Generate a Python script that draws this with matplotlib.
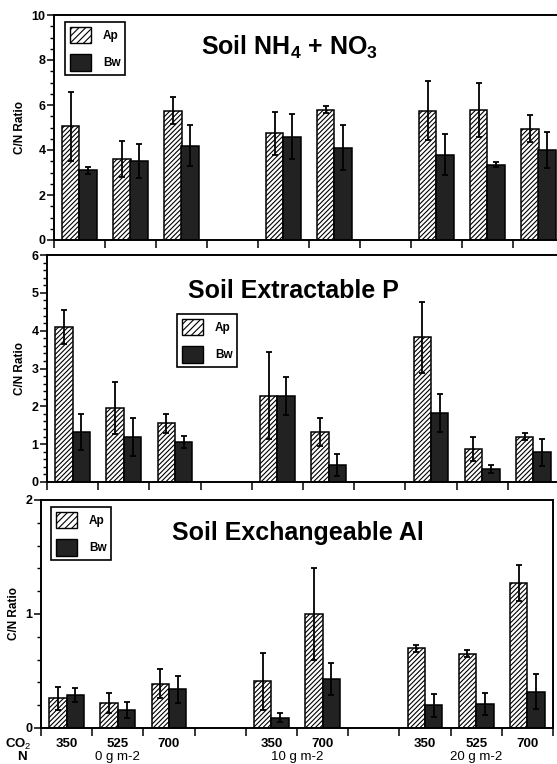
import numpy as np
import matplotlib.pyplot as plt
from matplotlib.patches import Patch
from matplotlib.ticker import MultipleLocator

plt.rcParams['font.family'] = ['Liberation Sans', 'DejaVu Sans']
plt.rcParams['mathtext.fontset'] = 'custom'
plt.rcParams['mathtext.rm'] = 'Liberation Sans'
plt.rcParams['mathtext.bf'] = 'Liberation Sans:bold'
plt.rcParams['hatch.linewidth'] = 0.8

# =========================
# Data
# =========================
slots = [0, 1, 2, 4, 5, 7, 8, 9]
co2_labels = ["350", "525", "700", "350", "700", "350", "525", "700"]
n_labels = ["0 g m-2", "10 g m-2", "20 g m-2"]
n_label_pos = [1.5, 5.0, 8.5]

nh4_ap = [5.05, 3.6, 5.75, 4.75, 5.8, 5.75, 5.8, 4.95]
nh4_ap_err = [1.55, 0.8, 0.6, 0.95, 0.15, 1.3, 1.2, 0.6]
nh4_bw = [3.1, 3.5, 4.2, 4.6, 4.1, 3.8, 3.35, 4.0]
nh4_bw_err = [0.15, 0.75, 0.9, 1.0, 1.0, 0.9, 0.1, 0.8]

p_ap = [4.1, 1.95, 1.55, 2.28, 1.32, 3.82, 0.87, 1.2]
p_ap_err = [0.45, 0.68, 0.25, 1.15, 0.38, 0.95, 0.32, 0.1]
p_bw = [1.32, 1.2, 1.05, 2.28, 0.45, 1.82, 0.34, 0.78]
p_bw_err = [0.48, 0.5, 0.16, 0.5, 0.28, 0.5, 0.1, 0.35]

al_ap = [0.26, 0.22, 0.39, 0.41, 1.0, 0.7, 0.65, 1.27]
al_ap_err = [0.1, 0.09, 0.13, 0.25, 0.4, 0.03, 0.03, 0.16]
al_bw = [0.29, 0.16, 0.34, 0.09, 0.43, 0.2, 0.21, 0.32]
al_bw_err = [0.06, 0.07, 0.12, 0.04, 0.14, 0.1, 0.1, 0.15]

W, H = 557, 764
BW = 0.34
DARK = "#222222"
HATCH = "///////"

fig = plt.figure(figsize=(W / 100, H / 100), dpi=100)


def px_axes(left, top, right, bottom):
    return fig.add_axes([left / W, 1 - bottom / H, (right - left) / W, (bottom - top) / H])


def panel(ax, ap, ap_err, bw, bw_err, ymax, major, minor, title, tx, ty, leg):
    x = np.array(slots) + 0.5
    ax.bar(x - BW / 2, ap, BW, color="white", edgecolor="black", hatch=HATCH, linewidth=1.1, zorder=2)
    ax.bar(x + BW / 2, bw, BW, color=DARK, edgecolor="black", linewidth=1.1, zorder=2)
    ax.errorbar(x - BW / 2, ap, yerr=ap_err, fmt="none", ecolor="black",
                elinewidth=1.3, capsize=2.5, capthick=1.3, zorder=3)
    ax.errorbar(x + BW / 2, bw, yerr=bw_err, fmt="none", ecolor="black",
                elinewidth=1.3, capsize=2.5, capthick=1.3, zorder=3)
    ax.set_xlim(0, 10)
    ax.set_ylim(0, ymax)
    ax.yaxis.set_major_locator(MultipleLocator(major))
    ax.yaxis.set_minor_locator(MultipleLocator(minor))
    ax.set_xticks(range(11))
    ax.set_xticklabels([])
    ax.tick_params(axis="x", which="major", direction="out", length=6, width=1.1)
    ax.tick_params(axis="y", which="major", direction="out", length=5, width=1.1,
                   labelsize=9, pad=1)
    ax.tick_params(axis="y", which="minor", direction="out", length=3, width=1.0)
    for t in ax.get_yticklabels():
        t.set_fontweight("bold")
    for s in ax.spines.values():
        s.set_linewidth(1.4)
    ax.set_ylabel("C/N Ratio", fontsize=8.5, fontweight="bold", labelpad=4)
    fig.text(tx / W, 1 - ty / H, title, fontsize=18, fontweight="bold",
             ha="center", va="center")
    handles = [Patch(facecolor="white", edgecolor="black", hatch="/////", label="Ap"),
               Patch(facecolor=DARK, edgecolor="black", label="Bw")]
    lg = ax.legend(handles=handles, loc="upper left",
                   bbox_to_anchor=(leg[0] / W, 1 - leg[1] / H),
                   bbox_transform=fig.transFigure, borderaxespad=0,
                   fancybox=False, framealpha=1, edgecolor="black",
                   fontsize=8.5, handlelength=1.8, handleheight=1.8,
                   labelspacing=0.9, borderpad=0.4, handletextpad=1.0)
    lg.get_frame().set_linewidth(1.2)
    for t in lg.get_texts():
        t.set_fontweight("bold")


ax1 = px_axes(54, 15, 564, 240)
panel(ax1, nh4_ap, nh4_ap_err, nh4_bw, nh4_bw_err, 10, 2, 0.5,
      r"Soil NH$\mathbf{_4}$ + NO$\mathbf{_3}$", 289, 47, (65, 22))

ax2 = px_axes(47, 255, 559, 482)
panel(ax2, p_ap, p_ap_err, p_bw, p_bw_err, 6, 1, 0.2,
      "Soil Extractable P", 293, 291, (177, 314))

ax3 = px_axes(41, 500, 553, 728)
panel(ax3, al_ap, al_ap_err, al_bw, al_bw_err, 2, 1, 0.2,
      "Soil Exchangeable Al", 298, 533, (51, 507))

# CO2 labels under bottom panel
ax3.set_xticks(np.array(slots) + 0.5, minor=True)
ax3.set_xticklabels(co2_labels, minor=True, fontsize=9.5, fontweight="bold")
ax3.tick_params(axis="x", which="minor", length=0, pad=7)

fig.text(5 / W, 1 - 744 / H, r"CO$_2$", fontsize=9.5, fontweight="bold",
         ha="left", va="center")
fig.text(17 / W, 1 - 757 / H, "N", fontsize=9.5, fontweight="bold",
         ha="left", va="center")
for lab, pos in zip(n_labels, n_label_pos):
    xpix = 41 + pos * 51.2
    fig.text(xpix / W, 1 - 757 / H, lab, fontsize=9.5, ha="center", va="center")

fig.savefig("out.png", dpi=100)
